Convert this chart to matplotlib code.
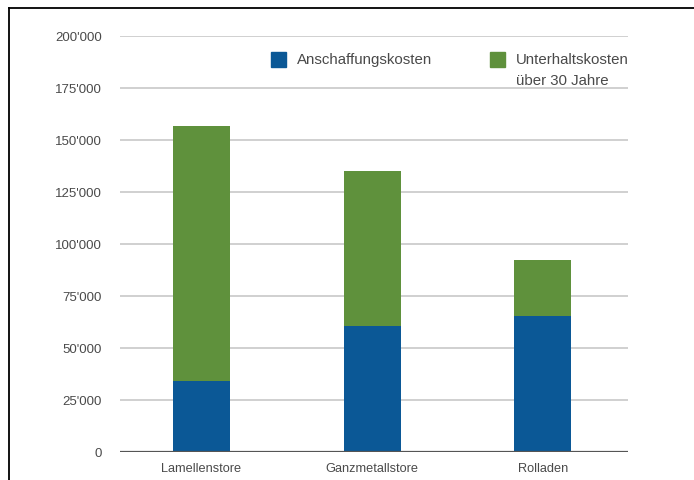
import matplotlib
matplotlib.use("Agg")
from matplotlib import pyplot as plt
from matplotlib.patches import Rectangle
from matplotlib.lines import Line2D
from matplotlib.ticker import FuncFormatter

categories = ["Lamellenstore", "Ganzmetallstore", "Rolladen"]
anschaffung = [34000, 60500, 65500]
unterhalt = [122500, 74500, 26800]
series_names = ["Anschaffungskosten", "Unterhaltskosten\nüber 30 Jahre"]
yticks = [0, 25000, 50000, 75000, 100000, 125000, 150000, 175000, 200000]

blue = "#0b5896"
green = "#5f913c"

plt.rcParams['font.family'] = ['Liberation Sans', 'DejaVu Sans']

fig = plt.figure(figsize=(6.94, 4.81), dpi=100)
ax = fig.add_axes([120/694, 28/481, 508/694, 416/481])

x = range(len(categories))
ax.bar(x, anschaffung, width=0.335, color=blue, zorder=3)
ax.bar(x, unterhalt, width=0.335, bottom=anschaffung, color=green, zorder=3)

ax.set_ylim(0, 200000)
ax.set_xlim(-0.478, 2.5)
ax.set_yticks(yticks)
ax.yaxis.set_major_formatter(FuncFormatter(lambda v, p: f"{int(v):,}".replace(",", "'")))
ax.set_xticks(list(x))
ax.set_xticklabels(categories)
ax.tick_params(axis="both", length=0, colors="#4a4a4a")
ax.tick_params(axis="y", pad=13, labelsize=9.5)
ax.tick_params(axis="x", pad=7, labelsize=9.2)
for s in ax.spines.values():
    s.set_visible(False)
ax.grid(axis="y", color="#c4c4c4", linewidth=1.1, zorder=0)
ax.axhline(0, color="#555555", linewidth=1.6, zorder=4)

# legend drawn by hand so the key sits next to the first line of text
for (kx, tx, name, col) in [(271, 297, series_names[0], blue), (490, 516, series_names[1], green)]:
    fig.add_artist(Rectangle((kx/694, 1 - 68/481), 15/694, 15/481, color=col, transform=fig.transFigure))
    fig.text(tx/694, 1 - 53/481, name, fontsize=10.8, color="#4a4a4a", va="top", ha="left", linespacing=1.6)

# frame lines around the picture
fig.add_artist(Line2D([9/694, 1], [1 - 9/481, 1 - 9/481], color="black", linewidth=1.3, transform=fig.transFigure))
fig.add_artist(Line2D([9/694, 9/694], [0, 1 - 9/481], color="black", linewidth=1.3, transform=fig.transFigure))

fig.savefig("out.png", dpi=100)
